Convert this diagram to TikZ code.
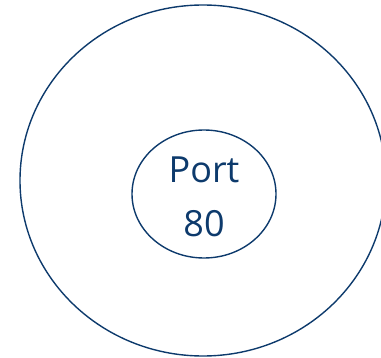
\documentclass[tikz,border=0pt]{standalone}
\usepackage{fontspec}
\setmainfont{Open Sans}
\usetikzlibrary{shapes.geometric}
\definecolor{portBlue}{HTML}{0D3A6C}

\begin{document}
\begin{tikzpicture}[
  x=1pt,y=1pt,
  zone/.style={ellipse,draw=portBlue,line width=1.4pt,inner sep=0pt},
  portText/.style={text=portBlue,align=center,font=\fontsize{36}{54}\selectfont}
]
  \useasboundingbox (0,0) rectangle (381,357);
  \node[zone,minimum width=366pt,minimum height=351pt] (host) at (203,176.5) {};
  \node[zone,minimum width=144pt,minimum height=128pt,
    label={[portText,yshift=-3pt]center:Port\\80}] (port) at (204,163) {};
\end{tikzpicture}
\end{document}
